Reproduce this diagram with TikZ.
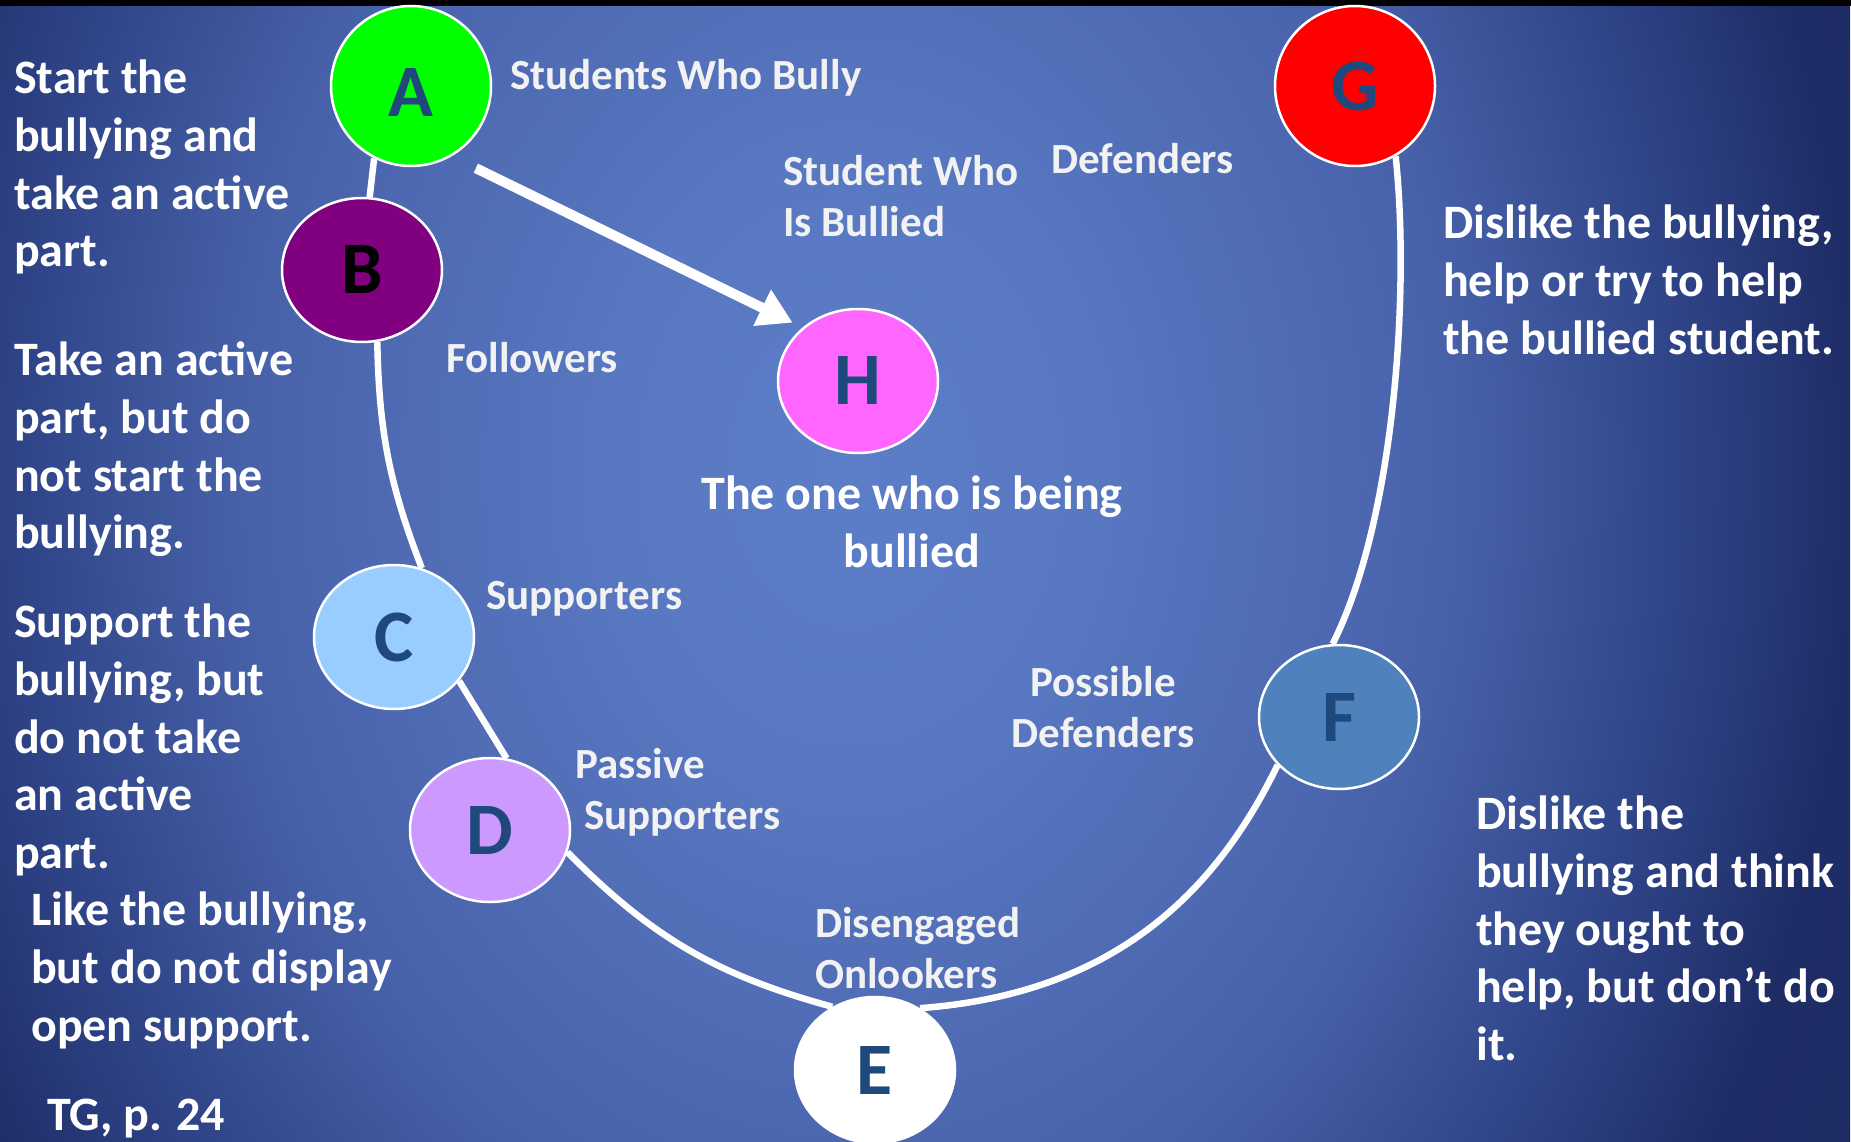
\documentclass[tikz,border=0pt]{standalone}
\usepackage{fontspec}
\setmainfont{Carlito}
\usetikzlibrary{shapes.geometric,arrows.meta}
\definecolor{bgA}{HTML}{5C7EC8}
\definecolor{bgB}{HTML}{5878C1}
\definecolor{bgC}{HTML}{4862AA}
\definecolor{bgD}{HTML}{2E4386}
\definecolor{bgE}{HTML}{1F2D67}
\definecolor{bgF}{HTML}{1A2658}
\definecolor{letterblue}{HTML}{1F497D}
\definecolor{labelgrey}{HTML}{F2F2F2}
\definecolor{cA}{HTML}{00FF00}
\definecolor{cB}{HTML}{800080}
\definecolor{cC}{HTML}{99CCFF}
\definecolor{cD}{HTML}{CC99FF}
\definecolor{cE}{HTML}{FFFFFF}
\definecolor{cF}{HTML}{4F81BD}
\definecolor{cG}{HTML}{FF0000}
\definecolor{cH}{HTML}{FF66FF}
\pgfdeclareradialshading{bgshade}{\pgfpointorigin}{color(0bp)=(bgA); color(6bp)=(bgB); color(15bp)=(bgC); color(21bp)=(bgD); color(25bp)=(bgE); color(38bp)=(bgF); color(60bp)=(bgF)}
\tikzset{
  circ/.style={ellipse, draw=white, line width=2.5pt, inner sep=0pt,
    minimum width=160pt, minimum height=144pt,
    font=\fontsize{74}{74}\selectfont\bfseries, text=letterblue},
  link/.style={draw=white, line width=6.5pt},
  arrowline/.style={draw=white, line width=10pt, -{Triangle[width=38pt,length=34pt]}},
  big/.style={font=\fontsize{48}{57.6}\selectfont\bfseries, text=white,
    inner sep=0pt, align=left, anchor=north west},
  small/.style={font=\fontsize{43}{51.5}\selectfont\bfseries, text=labelgrey,
    inner sep=0pt, align=left, anchor=north west}
}
\begin{document}
\begin{tikzpicture}[x=1pt,y=-1pt]
\useasboundingbox (0,0) rectangle (1851,1142);
\begin{scope}
  \clip (0,0) rectangle (1851,1142);
  \shade[shading=bgshade] (-150,-830) rectangle (1850,1770);
  \fill[black] (0,0) rectangle (1851,6);
\end{scope}
% circles
\node[circ, fill=cA, minimum height=160pt] (A) at (411,86) {\vphantom{A}\smash{\raisebox{-7pt}{A}}};
\node[circ, fill=cB, text=black] (B) at (362,270) {B};
\node[circ, fill=cH] (H) at (858,381) {H};
\node[circ, fill=cG, minimum height=160pt] (G) at (1355,86) {G};
\node[circ, fill=cC] (C) at (394,637) {C};
\node[circ, fill=cD] (D) at (490,830) {D};
\node[circ, fill=cE, minimum height=146pt] (E) at (875,1070) {E};
\node[circ, fill=cF] (F) at (1339,717) {F};
% connectors
\draw[link] (A.243) -- (B.84);
\draw[link] (B.282) to[bend right=10] (C.68);
\draw[link] (C.326) -- (D.77);
\draw[link] (D.344) to[bend right=15] (E.124);
\draw[link] (E.54) to[bend right=30] (F.218);
\draw[link] (F.95) .. controls (1395,520) and (1410,290) .. (G.300);
\draw[arrowline, shorten <=27pt, shorten >=11pt] (A.-60) -- (H.136.6);
% big texts
\node[big] (t1) at (14,60) {Start the\\bullying and\\take an active\\part.};
\node[big] (t2) at (14,342) {Take an active\\part, but do\\not start the\\bullying.};
\node[big] (t3) at (14,604) {Support the\\bullying, but\\do not take\\an active\\part.};
\node[big] (t4) at (31,892) {Like the bullying,\\but do not display\\open support.};
\node[big] (t5) at (47,1099) {TG, p. 24};
\node[big] (t6) at (1443,205) {Dislike the bullying,\\help or try to help\\the bullied student.};
\node[big] (t7) at (1476,796) {Dislike the\\bullying and think\\they ought to\\help, but don’t do\\it.};
\node[big, anchor=north, align=center] (t8) at (912,476) {The one who is being\\bullied};
% small labels
\node[small] (l1) at (510,59) {Students Who Bully};
\node[small] (l2) at (783,155) {Student Who\\Is Bullied};
\node[small] (l3) at (1051,143) {Defenders};
\node[small] (l4) at (446,342) {Followers};
\node[small] (l5) at (486,581) {Supporters};
\node[small] (l6) at (575,748) {Passive\\\hspace*{9pt}Supporters};
\node[small, anchor=north, align=center] (l7) at (1103,666) {Possible\\Defenders};
\node[small] (l8) at (815,907) {Disengaged\\Onlookers};
\end{tikzpicture}
\end{document}
